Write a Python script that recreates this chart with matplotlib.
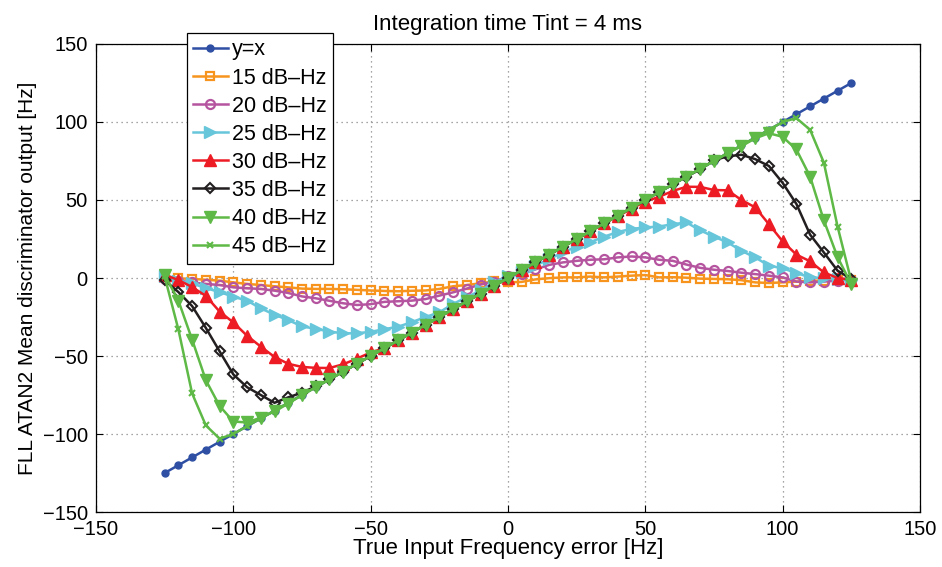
import matplotlib
matplotlib.use('Agg')
import matplotlib.pyplot as plt

plt.rcParams['font.family'] = ['Liberation Sans', 'DejaVu Sans']

freq = [-125, -120, -115, -110, -105, -100, -95, -90, -85, -80, -75, -70, -65, -60, -55, -50, -45, -40,
        -35, -30, -25, -20, -15, -10, -5, 0, 5, 10, 15, 20, 25, 30, 35, 40, 45, 50, 55, 60, 65, 70,
        75, 80, 85, 90, 95, 100, 105, 110, 115, 120, 125]

y_eq_x = [-125, -120, -115, -110, -105, -100, -95, -90, -85, -80, -75, -70, -65, -60, -55, -50, -45, -40,
          -35, -30, -25, -20, -15, -10, -5, 0, 5, 10, 15, 20, 25, 30, 35, 40, 45, 50, 55, 60, 65, 70,
          75, 80, 85, 90, 95, 100, 105, 110, 115, 120, 125]

cn0_15 = [0.5, -0.2, -0.6, -1.1, -1.7, -2.8, -3.8, -4.5, -5.3, -6, -6.8, -7, -7, -7.2, -7.6, -8, -8.3, -8.5,
          -8.2, -8, -7, -5.3, -4.5, -3.4, -2.2, -2.8, -2.5, -0.9, -0.1, 0.4, 0.4, 0.9, 0.4, 0.9, 1.5, 1.9,
          0.4, 0.5, 0.2, -0.4, -0.6, -0.8, -1.4, -2.8, -3.2, -2.8, -2.3, -1.7, -1.7, -1.3, -1]

cn0_20 = [-0.6, -1.7, -2.8, -3.8, -4.5, -6, -6.6, -7, -8.1, -9.6, -11.8, -13, -14.6, -16.2, -17.3, -16.8,
          -15.3, -14.9, -14.5, -13.5, -11.3, -9.2, -6.8, -4.2, -2.3, 1, 2.5, 5.5, 8.4, 10, 11, 11.7, 12,
          13.2, 13.8, 13.2, 11.7, 11, 8.6, 6.5, 5.3, 4.5, 3.4, 2.5, 1.5, 0.4, -2.3, -2.8, -2.3, -1.7, -1]

cn0_25 = [1, -2, -3.5, -6.5, -9, -12, -14.5, -19.5, -23.5, -27, -31, -32.6, -34.3, -35.5, -35.4, -34.5,
          -32.8, -31.2, -28.3, -25, -22, -16.6, -12.3, -8, -2.8, 1, 4, 8, 12, 16.5, 20, 23, 26.5, 29.5,
          31.5, 32.4, 33, 34.5, 35.6, 30.5, 26.5, 22.8, 17.4, 13.2, 7.9, 6.2, 3.2, 0.4, 0, -0.6, -1]

cn0_30 = [2, -1.3, -5.8, -11.5, -21.5, -28.5, -37, -44, -50.6, -55, -57, -57.6, -57.7, -55.3, -51.7, -47.7,
          -45, -40, -35, -30, -25, -20, -15, -10, -5, 0, 5, 10, 15, 20, 25, 30, 35, 39.5, 44.5, 49, 52,
          55.8, 58.5, 58.4, 56.4, 56.2, 50, 45.3, 34.5, 23.5, 15, 10.7, 3.6, 0, -1]

cn0_35 = [-1.5, -9, -18, -32, -47, -61.8, -70, -75, -80, -76.5, -73.5, -69.5, -65, -60, -55, -50, -45, -40,
          -35, -30, -25, -20, -15, -10, -5, 0, 5, 10, 15, 20, 25, 30, 35, 40, 45, 50, 55, 60, 65, 69.6,
          75.5, 78, 79, 76.2, 71.8, 61, 47.5, 27.8, 16.4, 4.7, -0.6]

cn0_40 = [2, -14.5, -39.5, -65.5, -82, -92, -92.6, -89.5, -85.5, -80.5, -75, -70, -65, -60, -55, -50, -45,
          -40, -35, -30, -25, -20, -15, -10, -5, 0, 5, 10, 15, 20, 25, 30, 35, 40, 45, 50, 55, 60, 65, 70,
          75, 80, 84.5, 89.5, 92.8, 90.5, 82.4, 65, 37, 13.4, -4]

cn0_45 = [1, -33, -74, -94.5, -103, -100, -95, -90, -85, -80, -75, -70, -65, -60, -55, -50, -45, -40, -35,
          -30, -25, -20, -15, -10, -5, 0, 5, 10, 15, 20, 25, 30, 35, 40, 45, 50, 55, 60, 65, 70, 75, 80,
          85, 90, 95, 100, 102.5, 95, 74, 33, -2]

labels = ['y=x', '15 dB\u2013Hz', '20 dB\u2013Hz', '25 dB\u2013Hz', '30 dB\u2013Hz',
          '35 dB\u2013Hz', '40 dB\u2013Hz', '45 dB\u2013Hz']

fig = plt.figure(figsize=(9.42, 5.67), dpi=100)
ax = fig.add_axes([0.1019, 0.097, 0.8747, 0.8254])

lw = 1.8
ax.plot(freq, y_eq_x, color='#2e4fa3', lw=lw, marker='o', ms=5, label=labels[0])
ax.plot(freq, cn0_15, color='#f7941d', lw=lw, marker='s', ms=6, mfc='none', mew=1.6, label=labels[1])
ax.plot(freq, cn0_20, color='#b5549f', lw=lw, marker='o', ms=6.5, mfc='none', mew=1.6, label=labels[2])
ax.plot(freq, cn0_25, color='#67c6da', lw=lw, marker='>', ms=8, label=labels[3])
ax.plot(freq, cn0_30, color='#ed1c24', lw=lw, marker='^', ms=8, label=labels[4])
ax.plot(freq, cn0_35, color='#231f20', lw=lw, marker='D', ms=5.5, mfc='none', mew=1.5, label=labels[5])
ax.plot(freq, cn0_40, color='#5eb946', lw=lw, marker='v', ms=8, label=labels[6])
ax.plot(freq, cn0_45, color='#5eb946', lw=lw, marker='x', ms=4, mew=1.5, label=labels[7])

ax.set_xlim(-150, 150)
ax.set_ylim(-150, 150)
ax.set_xticks([-150, -100, -50, 0, 50, 100, 150])
ax.set_yticks([-150, -100, -50, 0, 50, 100, 150])
ax.tick_params(direction='in', top=True, right=True, labelsize=14.5, length=5, pad=6)
ax.grid(True, color='#888888', linestyle=(0, (1, 3)), linewidth=0.9)
for s in ax.spines.values():
    s.set_linewidth(0.9)

ax.set_title('Integration time Tint = 4 ms', fontsize=16, pad=10)
ax.set_xlabel('True Input Frequency error [Hz]', fontsize=16, labelpad=-1)
ax.set_ylabel('FLL ATAN2 Mean discriminator output [Hz]', fontsize=15, labelpad=4)

leg = ax.legend(loc='upper left', bbox_to_anchor=(0.110, 1.0235), borderaxespad=0, fontsize=15.5,
                handlelength=1.6, handletextpad=0.2, labelspacing=0.33, borderpad=0.3,
                fancybox=False, framealpha=1, edgecolor='black')
leg.get_frame().set_linewidth(0.9)

fig.savefig('out.png', dpi=100)
